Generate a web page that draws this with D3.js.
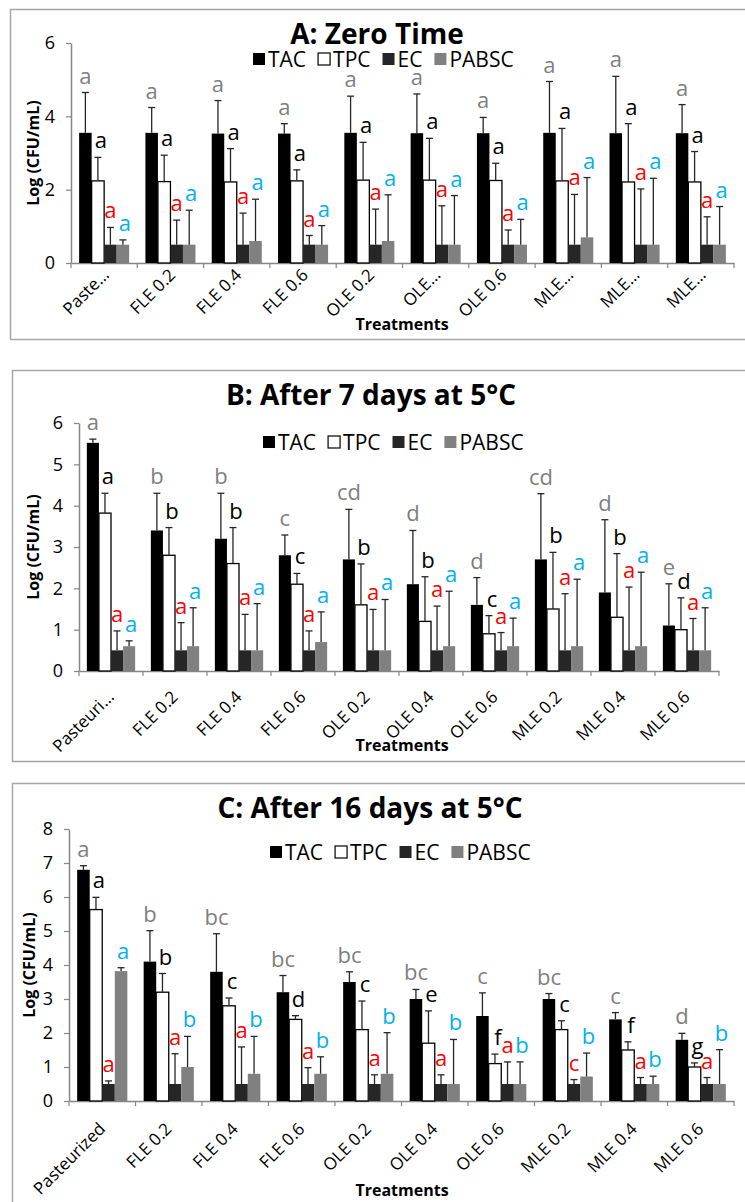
<!DOCTYPE html>
<html>
<head>
<meta charset="utf-8">
<script src="https://cdn.jsdelivr.net/npm/d3@7"></script>
<style>
  body { margin: 0; background: #fff; }
  svg { display: block; font-family: "Open Sans", sans-serif; }
</style>
</head>
<body>
<svg id="chart" width="745" height="1202"></svg>
<script>
// series + colours
var series = ["TAC", "TPC", "EC", "PABSC"];
var barColors = ["#000000", "#ffffff", "#262626", "#808080"];
var letterColors = ["#7f7f7f", "#000000", "#ff0000", "#00b0f0"];

// category labels (A is truncated in the original)
var catsA = ["Paste…", "FLE 0.2", "FLE 0.4", "FLE 0.6", "OLE 0.2", "OLE…", "OLE 0.6", "MLE…", "MLE…", "MLE…"];
var catsB = ["Pasteuri…", "FLE 0.2", "FLE 0.4", "FLE 0.6", "OLE 0.2", "OLE 0.4", "OLE 0.6", "MLE 0.2", "MLE 0.4", "MLE 0.6"];
var catsC = ["Pasteurized", "FLE 0.2", "FLE 0.4", "FLE 0.6", "OLE 0.2", "OLE 0.4", "OLE 0.6", "MLE 0.2", "MLE 0.4", "MLE 0.6"];

// A: zero time
var tacA   = [3.55, 3.55, 3.53, 3.53, 3.55, 3.54, 3.54, 3.55, 3.54, 3.54];
var tpcA   = [2.24, 2.22, 2.21, 2.24, 2.26, 2.26, 2.25, 2.24, 2.21, 2.21];
var ecA    = [0.5, 0.5, 0.5, 0.5, 0.5, 0.5, 0.5, 0.5, 0.5, 0.5];
var pabscA = [0.5, 0.5, 0.6, 0.5, 0.6, 0.5, 0.5, 0.7, 0.5, 0.5];
var tacErrA   = [1.10, 0.69, 0.90, 0.27, 1.00, 1.07, 0.43, 1.40, 1.55, 0.78];
var tpcErrA   = [0.64, 0.72, 0.91, 0.30, 1.03, 1.14, 0.47, 1.43, 1.59, 0.83];
var ecErrA    = [0.47, 0.67, 0.86, 0.25, 0.97, 1.06, 0.40, 1.37, 1.52, 0.76];
var pabscErrA = [0.13, 0.94, 1.14, 0.52, 1.26, 1.34, 0.69, 1.63, 1.81, 1.04];
var lettersA = [
  ["a", "a", "a", "a", "a", "a", "a", "a", "a", "a"],
  ["a", "a", "a", "a", "a", "a", "a", "a", "a", "a"],
  ["a", "a", "a", "a", "a", "a", "a", "a", "a", "a"],
  ["a", "a", "a", "a", "a", "a", "a", "a", "a", "a"]
];

// B: after 7 days
var tacB   = [5.52, 3.4, 3.2, 2.8, 2.7, 2.1, 1.6, 2.7, 1.9, 1.1];
var tpcB   = [3.82, 2.8, 2.6, 2.1, 1.6, 1.2, 0.9, 1.5, 1.3, 1.0];
var ecB    = [0.5, 0.5, 0.5, 0.5, 0.5, 0.5, 0.5, 0.5, 0.5, 0.5];
var pabscB = [0.6, 0.6, 0.5, 0.7, 0.5, 0.6, 0.6, 0.6, 0.6, 0.5];
var tacErrB   = [0.09, 0.90, 1.10, 0.49, 1.21, 1.30, 0.66, 1.59, 1.76, 1.01];
var tpcErrB   = [0.48, 0.67, 0.87, 0.26, 0.99, 1.08, 0.44, 1.37, 1.54, 0.77];
var ecErrB    = [0.47, 0.67, 0.87, 0.47, 0.99, 1.07, 0.43, 1.37, 1.53, 0.77];
var pabscErrB = [0.13, 0.93, 1.13, 0.73, 1.23, 1.33, 0.68, 1.62, 1.79, 1.03];
var lettersB = [
  ["a", "b", "b", "c", "cd", "d", "d", "cd", "d", "e"],
  ["a", "b", "b", "c", "b", "b", "c", "b", "b", "d"],
  ["a", "a", "a", "a", "a", "a", "a", "a", "a", "a"],
  ["a", "a", "a", "a", "a", "a", "a", "a", "a", "a"]
];

// C: after 16 days
var tacC   = [6.8, 4.1, 3.8, 3.2, 3.5, 3.0, 2.5, 3.0, 2.4, 1.8];
var tpcC   = [5.63, 3.2, 2.8, 2.4, 2.1, 1.7, 1.1, 2.1, 1.5, 1.0];
var ecC    = [0.5, 0.5, 0.5, 0.5, 0.5, 0.5, 0.5, 0.5, 0.5, 0.5];
var pabscC = [3.82, 1.0, 0.8, 0.8, 0.8, 0.5, 0.5, 0.72, 0.5, 0.5];
var tacErrC   = [0.12, 0.91, 1.12, 0.49, 0.30, 0.28, 0.68, 0.16, 0.20, 0.19];
var tpcErrC   = [0.36, 0.55, 0.23, 0.11, 0.84, 0.95, 0.28, 0.26, 0.24, 0.12];
var ecErrC    = [0.09, 0.89, 1.09, 0.48, 0.27, 0.27, 0.65, 0.13, 0.19, 0.19];
var pabscErrC = [0.10, 0.90, 1.10, 0.50, 1.21, 1.31, 0.65, 0.69, 0.23, 1.01];
var lettersC = [
  ["a", "b", "bc", "bc", "bc", "bc", "c", "bc", "c", "d"],
  ["a", "b", "c", "d", "c", "e", "f", "c", "f", "g"],
  ["a", "a", "a", "a", "a", "a", "a", "c", "a", "a"],
  ["a", "b", "b", "b", "b", "b", "b", "b", "b", "b"]
];

var panels = [
  { title: "A: Zero Time", cats: catsA,
    values: [tacA, tpcA, ecA, pabscA], errs: [tacErrA, tpcErrA, ecErrA, pabscErrA], letters: lettersA,
    box: [10.5, 9.5, 760, 330], titleX: 377, titleY: 44, legendX: 253, legendY: 59,
    x0: 71, x1: 734, y0: 263, y1: 43, yMax: 6, yStep: 2,
    labDx: 6, labDy: 13, yTitleX: 33, xTitleY: 330 },
  { title: "B: After 7 days at 5°C", cats: catsB,
    values: [tacB, tpcB, ecB, pabscB], errs: [tacErrB, tpcErrB, ecErrB, pabscErrB], letters: lettersB,
    box: [12.5, 370.5, 760, 391], titleX: 371, titleY: 405, legendX: 263, legendY: 442,
    x0: 79, x1: 719, y0: 671, y1: 423, yMax: 6, yStep: 1,
    labDx: 4, labDy: 27, yTitleX: 33, xTitleY: 751 },
  { title: "C: After 16 days at 5°C", cats: catsC,
    values: [tacC, tpcC, ecC, pabscC], errs: [tacErrC, tpcErrC, ecErrC, pabscErrC], letters: lettersC,
    box: [12.5, 783.5, 760, 460], titleX: 370, titleY: 818, legendX: 270, legendY: 852,
    x0: 69, x1: 734, y0: 1101, y1: 829, yMax: 8, yStep: 1,
    labDx: 4, labDy: 29, yTitleX: 29, xTitleY: 1196 }
];

var svg = d3.select("#chart");
var axisColor = "#868686";

panels.forEach(drawPanel);

function drawPanel(p) {
  var g = svg.append("g");

  g.append("rect")
    .attr("x", p.box[0]).attr("y", p.box[1])
    .attr("width", p.box[2]).attr("height", p.box[3])
    .attr("fill", "#fff").attr("stroke", "#a6a6a6").attr("stroke-width", 1.5);

  var y = d3.scaleLinear().domain([0, p.yMax]).range([p.y0, p.y1]);
  var x = d3.scaleBand().domain(d3.range(p.cats.length)).range([p.x0, p.x1]);
  var inner = d3.scaleBand().domain(series).range([0, x.bandwidth()]).paddingOuter(0.65);

  // y axis
  var yAxis = g.append("g")
    .attr("transform", "translate(" + p.x0 + ",0)")
    .call(d3.axisLeft(y).tickValues(d3.range(0, p.yMax + 0.01, p.yStep))
      .tickSize(5).tickSizeOuter(0).tickPadding(11).tickFormat(d3.format("d")));
  yAxis.select(".domain").attr("stroke", axisColor).attr("stroke-width", 1.5);
  yAxis.selectAll(".tick line").attr("stroke", axisColor).attr("stroke-width", 1.2);
  yAxis.selectAll(".tick text").attr("font-size", 18).attr("fill", "#000")
    .attr("font-family", "Open Sans");

  // x axis
  var xAxis = g.append("g")
    .attr("transform", "translate(0," + p.y0 + ")")
    .call(d3.axisBottom(x).tickSize(0).tickSizeOuter(0)
      .tickFormat(function(i) { return p.cats[i]; }));
  xAxis.select(".domain").attr("stroke", axisColor).attr("stroke-width", 1.5);
  xAxis.selectAll(".tick text")
    .attr("font-size", 17).attr("font-family", "Open Sans").attr("fill", "#000")
    .attr("text-anchor", "end").attr("dy", 0).attr("y", 0)
    .attr("transform", "translate(" + p.labDx + "," + p.labDy + ") rotate(-45)");

  // category boundary ticks
  var bounds = d3.range(p.cats.length).map(function(i) { return x(i); }).concat([p.x1]);
  g.append("g").selectAll("line").data(bounds).enter().append("line")
    .attr("x1", function(d) { return d; }).attr("x2", function(d) { return d; })
    .attr("y1", p.y0).attr("y2", p.y0 + 5)
    .attr("stroke", axisColor).attr("stroke-width", 1.2);

  // bars
  var rows = [];
  p.cats.forEach(function(c, i) {
    series.forEach(function(s, k) {
      rows.push({ i: i, k: k, v: p.values[k][i], e: p.errs[k][i], lab: p.letters[k][i] });
    });
  });

  g.append("g").selectAll("rect").data(rows).enter().append("rect")
    .attr("x", function(d) { return x(d.i) + inner(series[d.k]); })
    .attr("y", function(d) { return y(d.v); })
    .attr("width", inner.bandwidth())
    .attr("height", function(d) { return y(0) - y(d.v); })
    .attr("fill", function(d) { return barColors[d.k]; })
    .attr("stroke", function(d) { return d.k == 1 ? "#000" : "none"; })
    .attr("stroke-width", 1.3);

  // error bars (plus only)
  var err = g.append("g").attr("stroke", "#262626").attr("stroke-width", 1.3);
  function cx(d) { return x(d.i) + inner(series[d.k]) + inner.bandwidth() / 2; }
  err.selectAll("line.v").data(rows).enter().append("line").attr("class", "v")
    .attr("x1", cx).attr("x2", cx)
    .attr("y1", function(d) { return y(d.v); })
    .attr("y2", function(d) { return y(d.v + d.e); });
  err.selectAll("line.c").data(rows).enter().append("line").attr("class", "c")
    .attr("x1", function(d) { return cx(d) - 3.5; })
    .attr("x2", function(d) { return cx(d) + 3.5; })
    .attr("y1", function(d) { return y(d.v + d.e); })
    .attr("y2", function(d) { return y(d.v + d.e); });

  // significance letters
  var shift = [0, 3, 0, 2];
  g.append("g").selectAll("text").data(rows).enter().append("text")
    .attr("x", function(d) { return cx(d) + shift[d.k]; })
    .attr("y", function(d) { return y(d.v + d.e) - 9; })
    .attr("text-anchor", "middle")
    .attr("font-size", 22)
    .attr("fill", function(d) { return letterColors[d.k]; })
    .text(function(d) { return d.lab; });

  // title
  g.append("text")
    .attr("x", p.titleX).attr("y", p.titleY)
    .attr("text-anchor", "middle")
    .attr("font-size", 28).attr("font-weight", "bold")
    .text(p.title);

  // legend
  var leg = g.append("g").attr("transform", "translate(" + p.legendX + "," + p.legendY + ")");
  var lx = 0;
  series.forEach(function(s, k) {
    leg.append("rect")
      .attr("x", lx).attr("y", -6).attr("width", 12).attr("height", 12)
      .attr("fill", barColors[k])
      .attr("stroke", k == 1 ? "#000" : "none").attr("stroke-width", 1.2);
    var t = leg.append("text")
      .attr("x", lx + 15).attr("y", 0).attr("dy", "0.36em")
      .attr("font-size", 21).text(s);
    lx += 15 + t.node().getComputedTextLength() + 12;
  });

  // axis titles
  g.append("text")
    .attr("transform", "translate(" + p.yTitleX + "," + ((p.y0 + p.y1) / 2) + ") rotate(-90)")
    .attr("text-anchor", "middle").attr("dy", "0.35em")
    .attr("font-size", 16).attr("font-weight", "bold")
    .text("Log (CFU/mL)");

  g.append("text")
    .attr("x", 402).attr("y", p.xTitleY)
    .attr("text-anchor", "middle")
    .attr("font-size", 16).attr("font-weight", "bold")
    .text("Treatments");
}
</script>
</body>
</html>
